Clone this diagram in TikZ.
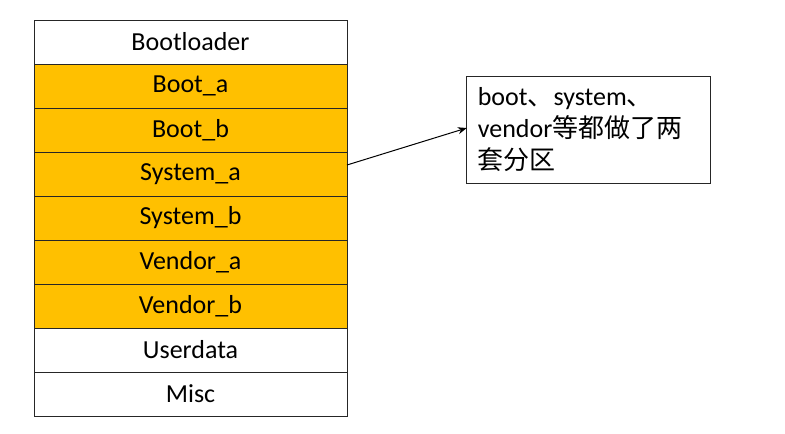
\documentclass[tikz,border=0pt]{standalone}
\usepackage{fontspec}
\setmainfont{Carlito}
\newfontfamily\cjk{Noto Sans CJK SC}
\usetikzlibrary{positioning,arrows.meta}
\definecolor{partorange}{RGB}{255,192,0}

\tikzset{
  part/.style={draw=black!85, line width=0.9pt, outer sep=0pt, inner sep=0pt,
    minimum width=313pt, minimum height=44pt, font=\fontsize{26}{30}\selectfont},
  partab/.style={part, fill=partorange},
  notebox/.style={draw=black!85, line width=0.9pt, outer sep=0pt, inner xsep=11pt,
    text width=222pt, minimum height=106.6pt, align=left, font=\fontsize{26}{32}\selectfont}
}

\begin{document}
\begin{tikzpicture}[x=1pt,y=1pt]
  \useasboundingbox (0,0) rectangle (785,434); %画布

  % 分区表
  \node[part] (bootloader) at (190.5,392) {Bootloader};
  \node[partab, below=0pt of bootloader] (boota) {Boot\_a};
  \node[partab, below=0pt of boota] (bootb) {Boot\_b};
  \node[partab, below=0pt of bootb] (systema) {System\_a};
  \node[partab, below=0pt of systema] (systemb) {System\_b};
  \node[partab, below=0pt of systemb] (vendora) {Vendor\_a};
  \node[partab, below=0pt of vendora] (vendorb) {Vendor\_b};
  \node[part, below=0pt of vendorb] (userdata) {Userdata};
  \node[part, below=0pt of userdata] (misc) {Misc};

  % 说明
  \node[notebox] (note) at (588.8,304) {boot{\cjk 、}system{\cjk 、}\\vendor{\cjk 等都做了两}\\{\cjk 套分区}};

  \draw[-{Stealth[length=9pt,width=7pt]},line width=1pt] ([yshift=9pt]systema.east) -- ([yshift=2pt]note.west);
\end{tikzpicture}
\end{document}
